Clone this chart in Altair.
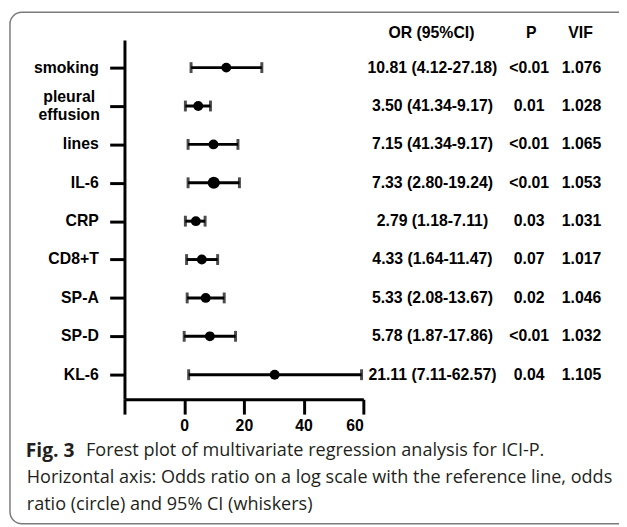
import altair as alt
import pandas as pd

# ---- data ----
labels = ["smoking", "pleural effusion", "lines", "IL-6", "CRP", "CD8+T", "SP-A", "SP-D", "KL-6"]
or_vals = [14.1, 4.7, 9.8, 9.9, 3.9, 5.9, 7.2, 8.6, 30.3]
ci_low = [2.3, 0.4, 1.3, 1.3, 0.4, 0.8, 1.0, 0.0, 1.5]
ci_high = [26.0, 8.8, 18.0, 18.5, 7.0, 11.2, 13.4, 17.2, 59.4]
or_text = ["10.81 (4.12-27.18)", "3.50 (41.34-9.17)", "7.15 (41.34-9.17)", "7.33 (2.80-19.24)",
           "2.79 (1.18-7.11)", "4.33 (1.64-11.47)", "5.33 (2.08-13.67)", "5.78 (1.87-17.86)",
           "21.11 (7.11-62.57)"]
p_text = ["<0.01", "0.01", "<0.01", "<0.01", "0.03", "0.07", "0.02", "<0.01", "0.04"]
vif_text = ["1.076", "1.028", "1.065", "1.053", "1.031", "1.017", "1.046", "1.032", "1.105"]
x_ticks = [-20, 0, 20, 40, 60]
headers = ["OR (95%CI)", "P", "VIF"]
caption_bold = "Fig. 3"
caption_lines = [
    "Forest plot of multivariate regression analysis for ICI-P.",
    "Horizontal axis: Odds ratio on a log scale with the reference line, odds",
    "ratio (circle) and 95% CI (whiskers)",
]

df = pd.DataFrame({
    "idx": list(range(len(labels))),
    "label": labels,
    "or": or_vals,
    "lo": ci_low,
    "hi": ci_high,
    "or_txt": or_text,
    "p_txt": p_text,
    "vif_txt": vif_text,
})

FONT = "Liberation Sans"
W, H = 242, 364

x_scale = alt.Scale(domain=[-20, 60], nice=False, zero=False)
y_scale = alt.Scale(domain=[-0.72, 8.64], reverse=True, nice=False, zero=False)

x_axis = alt.Axis(values=x_ticks, labelExpr="datum.value == -20 ? '' : datum.label",
                  title=None, grid=False, domainWidth=3, domainColor="black",
                  tickWidth=3, tickColor="black", tickSize=15, labelPadding=4,
                  labelFont=FONT, labelFontSize=16, labelFontWeight="bold", labelColor="black",
                  labelBaseline="top")
y_axis = alt.Axis(values=list(range(len(labels))), labels=False,
                  title=None, grid=False, domainWidth=3, domainColor="black",
                  tickWidth=3, tickColor="black", tickSize=15)

base = alt.Chart(df)

frame = alt.Chart(pd.DataFrame({"a": [0]})).mark_rect(
    cornerRadius=12, fill="white", fillOpacity=0, stroke="#7a7a7a", strokeWidth=1.5
).encode(x=alt.value(-116), x2=alt.value(560), y=alt.value(-28), y2=alt.value(490))

whisk = base.mark_rule(color="black", strokeWidth=3).encode(
    x=alt.X("lo:Q", scale=x_scale, axis=x_axis),
    x2="hi:Q",
    y=alt.Y("idx:Q", scale=y_scale, axis=y_axis),
)
cap_lo = base.mark_tick(orient="vertical", color="black", thickness=3, size=11).encode(
    x="lo:Q", y="idx:Q")
cap_hi = base.mark_tick(orient="vertical", color="black", thickness=3, size=11).encode(
    x="hi:Q", y="idx:Q")
dots = base.mark_circle(color="black", opacity=1).encode(
    x="or:Q", y="idx:Q",
    size=alt.condition("datum.label == 'IL-6'", alt.value(150), alt.value(100)),
)

lab_kw = dict(font=FONT, fontSize=16, fontWeight="bold", color="black", baseline="middle")
ylab = base.transform_filter("indexof(datum.label, ' ') < 0").mark_text(
    align="right", **lab_kw).encode(x=alt.value(-26), y="idx:Q", text="label:N")
ylab2 = base.transform_filter("indexof(datum.label, ' ') >= 0").mark_text(
    align="center", lineBreak=" ", lineHeight=18, dy=-9, **lab_kw).encode(
    x=alt.value(-56), y="idx:Q", text="label:N")

txt_kw = dict(font=FONT, fontSize=16, fontWeight="bold", color="black", baseline="middle",
              align="center")
t_or = base.mark_text(**txt_kw).encode(x=alt.value(312), y="idx:Q", text="or_txt:N")
t_p = base.mark_text(**txt_kw).encode(x=alt.value(410), y="idx:Q", text="p_txt:N")
t_vif = base.mark_text(**txt_kw).encode(x=alt.value(463), y="idx:Q", text="vif_txt:N")

hdr_df = pd.DataFrame({"h": headers})
h_or = alt.Chart(hdr_df[hdr_df.h == headers[0]]).mark_text(**txt_kw).encode(
    x=alt.value(311), y=alt.value(-7), text="h:N")
h_p = alt.Chart(hdr_df[hdr_df.h == headers[1]]).mark_text(**txt_kw).encode(
    x=alt.value(412), y=alt.value(-7), text="h:N")
h_vif = alt.Chart(hdr_df[hdr_df.h == headers[2]]).mark_text(**txt_kw).encode(
    x=alt.value(462), y=alt.value(-7), text="h:N")

cap_kw = dict(font="Open Sans", fontSize=18.3, color="#231f20", baseline="middle", align="left")
c_bold = alt.Chart(pd.DataFrame({"t": [caption_bold]})).mark_text(
    **{**cap_kw, "fontWeight": "bold", "fontSize": 19.5}).encode(
    x=alt.value(-100), y=alt.value(416), text="t:N")
c1 = alt.Chart(pd.DataFrame({"t": [caption_lines[0]]})).mark_text(**cap_kw).encode(
    x=alt.value(-39), y=alt.value(416), text="t:N")
c2 = alt.Chart(pd.DataFrame({"t": [caption_lines[1]]})).mark_text(**cap_kw).encode(
    x=alt.value(-99), y=alt.value(444), text="t:N")
c3 = alt.Chart(pd.DataFrame({"t": [caption_lines[2]]})).mark_text(**cap_kw).encode(
    x=alt.value(-99), y=alt.value(471), text="t:N")

chart = alt.layer(
    frame, whisk, cap_lo, cap_hi, dots, ylab, ylab2, t_or, t_p, t_vif, h_or, h_p, h_vif,
    c_bold, c1, c2, c3
).properties(
    width=W, height=H,
    autosize=alt.AutoSizeParams(type="none"),
    padding={"left": 118, "top": 29, "right": 259, "bottom": 126},
    background="white",
).configure_view(stroke=None)

chart.save("out.html", embed_options={"renderer": "svg", "actions": False})
